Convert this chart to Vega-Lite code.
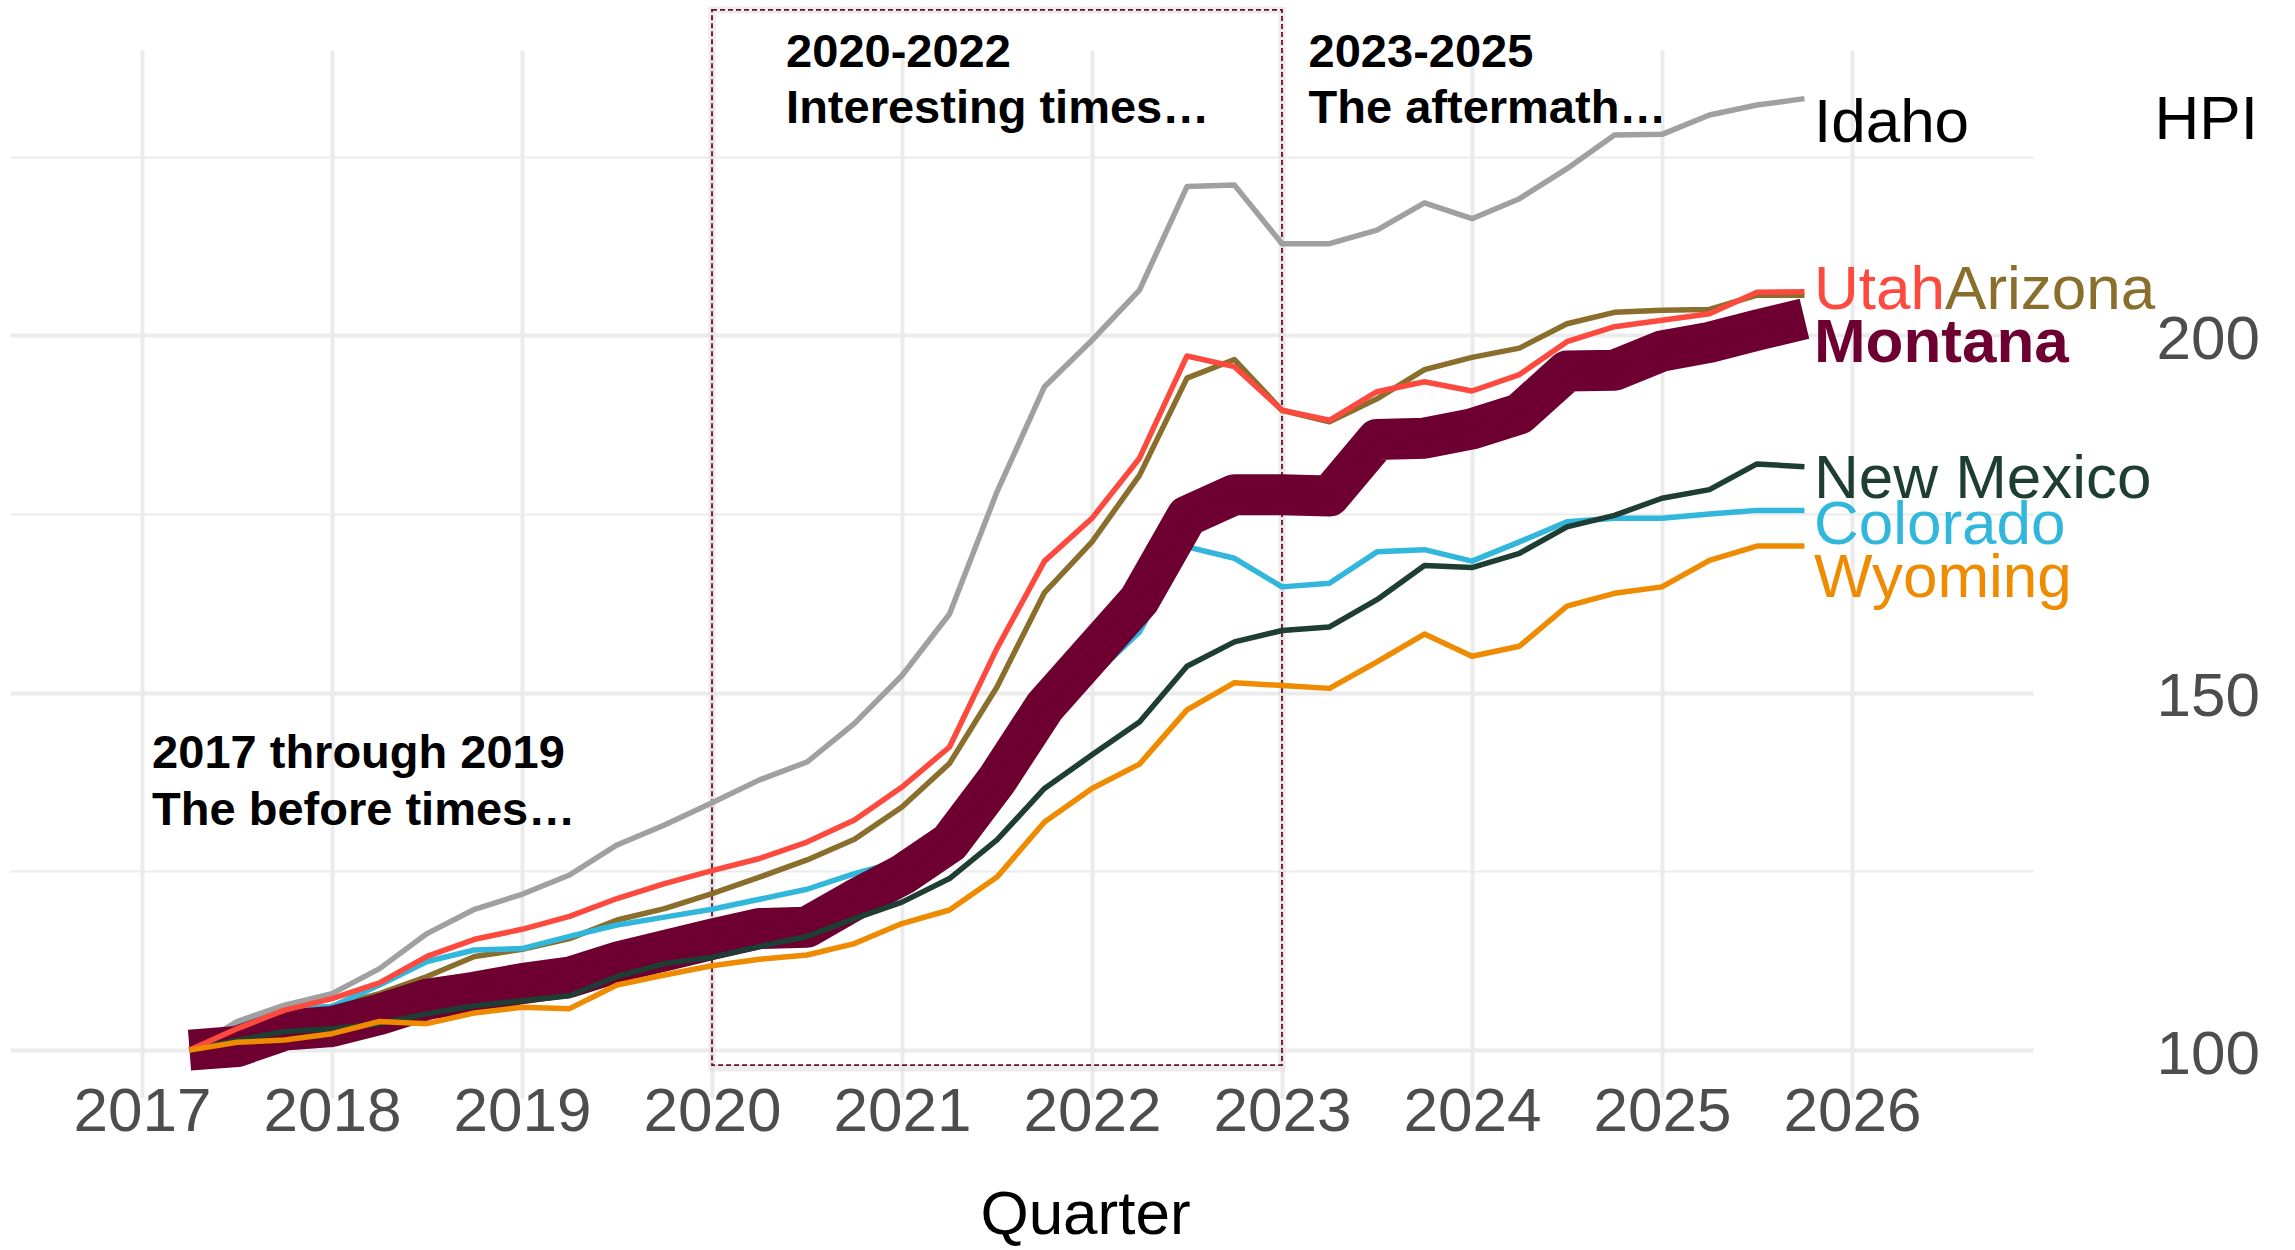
{
  "$schema": "https://vega.github.io/schema/vega-lite/v6.json",
  "width": 2023,
  "height": 1048,
  "autosize": {"type": "none"},
  "padding": {"left": 10, "top": 50, "right": 262, "bottom": 152},
  "background": "#ffffff",
  "config": {"view": {"stroke": null}, "font": "Liberation Sans"},
  "datasets": {
    "hpi": [
      {"q": 2017.25, "Arizona": 100, "Colorado": 100, "Idaho": 100, "Montana": 100, "New Mexico": 100, "Utah": 100, "Wyoming": 100},
      {"q": 2017.5, "Arizona": 102.3, "Colorado": 103.3, "Idaho": 104.0, "Montana": 100.5, "New Mexico": 101.4, "Utah": 103.0, "Wyoming": 101.1},
      {"q": 2017.75, "Arizona": 105.1, "Colorado": 105.8, "Idaho": 106.3, "Montana": 102.8, "New Mexico": 102.6, "Utah": 105.6, "Wyoming": 101.4},
      {"q": 2018, "Arizona": 106.1, "Colorado": 106.1, "Idaho": 107.9, "Montana": 103.3, "New Mexico": 103.0, "Utah": 107.2, "Wyoming": 102.3},
      {"q": 2018.25, "Arizona": 107.9, "Colorado": 109.1, "Idaho": 111.4, "Montana": 105.0, "New Mexico": 103.7, "Utah": 109.4, "Wyoming": 104.0},
      {"q": 2018.5, "Arizona": 110.3, "Colorado": 112.4, "Idaho": 116.3, "Montana": 107.1, "New Mexico": 105.1, "Utah": 113.1, "Wyoming": 103.7},
      {"q": 2018.75, "Arizona": 113.1, "Colorado": 114.0, "Idaho": 119.7, "Montana": 108.1, "New Mexico": 106.2, "Utah": 115.5, "Wyoming": 105.2},
      {"q": 2019, "Arizona": 114.1, "Colorado": 114.2, "Idaho": 121.8, "Montana": 109.3, "New Mexico": 106.9, "Utah": 116.9, "Wyoming": 106.0},
      {"q": 2019.25, "Arizona": 115.6, "Colorado": 115.9, "Idaho": 124.5, "Montana": 110.2, "New Mexico": 107.6, "Utah": 118.7, "Wyoming": 105.8},
      {"q": 2019.5, "Arizona": 118.2, "Colorado": 117.5, "Idaho": 128.7, "Montana": 112.3, "New Mexico": 110.3, "Utah": 121.2, "Wyoming": 109.1},
      {"q": 2019.75, "Arizona": 119.8, "Colorado": 118.6, "Idaho": 131.5, "Montana": 113.9, "New Mexico": 112.1, "Utah": 123.3, "Wyoming": 110.5},
      {"q": 2020, "Arizona": 121.9, "Colorado": 119.7, "Idaho": 134.6, "Montana": 115.5, "New Mexico": 113.0, "Utah": 125.1, "Wyoming": 111.8},
      {"q": 2020.25, "Arizona": 124.2, "Colorado": 121.1, "Idaho": 137.8, "Montana": 117.0, "New Mexico": 114.5, "Utah": 126.8, "Wyoming": 112.7},
      {"q": 2020.5, "Arizona": 126.6, "Colorado": 122.5, "Idaho": 140.3, "Montana": 117.2, "New Mexico": 115.9, "Utah": 129.1, "Wyoming": 113.3},
      {"q": 2020.75, "Arizona": 129.5, "Colorado": 124.7, "Idaho": 145.7, "Montana": 121.0, "New Mexico": 118.4, "Utah": 132.2, "Wyoming": 114.9},
      {"q": 2021, "Arizona": 134.0, "Colorado": 126.5, "Idaho": 152.4, "Montana": 124.5, "New Mexico": 120.7, "Utah": 136.8, "Wyoming": 117.7},
      {"q": 2021.25, "Arizona": 140.1, "Colorado": 130.0, "Idaho": 161.0, "Montana": 129.0, "New Mexico": 124.0, "Utah": 142.4, "Wyoming": 119.6},
      {"q": 2021.5, "Arizona": 150.8, "Colorado": 137.0, "Idaho": 178.1, "Montana": 137.8, "New Mexico": 129.4, "Utah": 156.2, "Wyoming": 124.2},
      {"q": 2021.75, "Arizona": 164.0, "Colorado": 145.0, "Idaho": 192.8, "Montana": 148.0, "New Mexico": 136.6, "Utah": 168.4, "Wyoming": 131.9},
      {"q": 2022, "Arizona": 171.1, "Colorado": 152.2, "Idaho": 199.3, "Montana": 155.5, "New Mexico": 141.3, "Utah": 174.4, "Wyoming": 136.6},
      {"q": 2022.25, "Arizona": 180.4, "Colorado": 158.5, "Idaho": 206.3, "Montana": 163.0, "New Mexico": 145.9, "Utah": 182.8, "Wyoming": 140.0},
      {"q": 2022.5, "Arizona": 194.0, "Colorado": 170.4, "Idaho": 220.8, "Montana": 174.7, "New Mexico": 153.7, "Utah": 197.1, "Wyoming": 147.6},
      {"q": 2022.75, "Arizona": 196.6, "Colorado": 168.8, "Idaho": 221.0, "Montana": 177.7, "New Mexico": 157.1, "Utah": 195.6, "Wyoming": 151.4},
      {"q": 2023, "Arizona": 189.5, "Colorado": 164.8, "Idaho": 212.8, "Montana": 177.7, "New Mexico": 158.7, "Utah": 189.5, "Wyoming": 151.0},
      {"q": 2023.25, "Arizona": 187.9, "Colorado": 165.3, "Idaho": 212.8, "Montana": 177.5, "New Mexico": 159.2, "Utah": 188.1, "Wyoming": 150.6},
      {"q": 2023.5, "Arizona": 191.1, "Colorado": 169.7, "Idaho": 214.7, "Montana": 185.4, "New Mexico": 163.0, "Utah": 192.1, "Wyoming": 154.3},
      {"q": 2023.75, "Arizona": 195.2, "Colorado": 170.0, "Idaho": 218.5, "Montana": 185.6, "New Mexico": 167.8, "Utah": 193.5, "Wyoming": 158.2},
      {"q": 2024, "Arizona": 196.9, "Colorado": 168.4, "Idaho": 216.3, "Montana": 186.9, "New Mexico": 167.5, "Utah": 192.2, "Wyoming": 155.1},
      {"q": 2024.25, "Arizona": 198.2, "Colorado": 171.1, "Idaho": 219.1, "Montana": 189.0, "New Mexico": 169.5, "Utah": 194.5, "Wyoming": 156.5},
      {"q": 2024.5, "Arizona": 201.6, "Colorado": 173.9, "Idaho": 223.3, "Montana": 195.0, "New Mexico": 173.2, "Utah": 199.1, "Wyoming": 162.1},
      {"q": 2024.75, "Arizona": 203.2, "Colorado": 174.4, "Idaho": 228.0, "Montana": 195.1, "New Mexico": 174.8, "Utah": 201.2, "Wyoming": 163.9},
      {"q": 2025, "Arizona": 203.5, "Colorado": 174.4, "Idaho": 228.1, "Montana": 197.8, "New Mexico": 177.2, "Utah": 202.1, "Wyoming": 164.8},
      {"q": 2025.25, "Arizona": 203.6, "Colorado": 175.0, "Idaho": 230.8, "Montana": 199.0, "New Mexico": 178.4, "Utah": 203.0, "Wyoming": 168.5},
      {"q": 2025.5, "Arizona": 205.6, "Colorado": 175.5, "Idaho": 232.2, "Montana": 200.7, "New Mexico": 182.0, "Utah": 206.0, "Wyoming": 170.5},
      {"q": 2025.75, "Arizona": 205.6, "Colorado": 175.5, "Idaho": 233.1, "Montana": 202.3, "New Mexico": 181.6, "Utah": 206.1, "Wyoming": 170.5}
    ],
    "labels": [
      {"state": "Idaho", "q": 2025.8, "v": 227.0},
      {"state": "Utah", "q": 2025.8, "v": 203.6},
      {"state": "Arizona", "q": 2026.49, "v": 203.6},
      {"state": "Montana", "q": 2025.8, "v": 196.2},
      {"state": "New Mexico", "q": 2025.8, "v": 177.2},
      {"state": "Colorado", "q": 2025.8, "v": 170.8},
      {"state": "Wyoming", "q": 2025.8, "v": 163.4}
    ],
    "notes": [
      {"q": 2017.053, "v": 139.4, "t": "2017 through 2019"},
      {"q": 2017.053, "v": 131.5, "t": "The before times…"},
      {"q": 2020.39, "v": 237.5, "t": "2020-2022"},
      {"q": 2020.39, "v": 229.7, "t": "Interesting times…"},
      {"q": 2023.14, "v": 237.5, "t": "2023-2025"},
      {"q": 2023.14, "v": 229.7, "t": "The aftermath…"}
    ]
  },
  "encoding": {
    "x": {
      "field": "q",
      "type": "quantitative",
      "scale": {"domain": [2016.305, 2026.953], "nice": false, "zero": false},
      "axis": {
        "values": [2017, 2018, 2019, 2020, 2021, 2022, 2023, 2024, 2025, 2026],
        "format": "d",
        "labelFont": "Liberation Sans",
        "labelFontSize": 62,
        "labelColor": "#4d4d4d",
        "labelBaseline": "top",
        "labelPadding": -17,
        "labelFlush": false,
        "labelOverlap": false,
        "ticks": false,
        "tickSize": 0,
        "domain": false,
        "grid": true,
        "gridColor": "#ebebeb",
        "gridWidth": 4,
        "title": "Quarter",
        "titleFont": "Liberation Sans",
        "titleFontSize": 62,
        "titleFontWeight": "normal",
        "titleColor": "#000000",
        "titleX": 1075,
        "titleY": 135,
        "titleAlign": "center",
        "titleBaseline": "alphabetic"
      }
    },
    "y": {
      "field": "v",
      "type": "quantitative",
      "scale": {"domain": [93.3, 239.9], "nice": false, "zero": false},
      "axis": {
        "orient": "right",
        "values": [100, 125, 150, 175, 200, 225],
        "labelExpr": "datum.value % 50 === 0 ? datum.label : ''",
        "labelFont": "Liberation Sans",
        "labelFontSize": 62,
        "labelColor": "#4d4d4d",
        "labelAlign": "left",
        "labelBaseline": "middle",
        "labelOffset": 4,
        "labelPadding": 123,
        "labelOverlap": false,
        "labelFlush": false,
        "ticks": false,
        "tickSize": 0,
        "domain": false,
        "grid": true,
        "gridColor": "#ebebeb",
        "gridWidth": {"condition": {"test": "datum.value % 50 === 0", "value": 4}, "value": 2},
        "title": "HPI",
        "titleFont": "Liberation Sans",
        "titleFontSize": 62,
        "titleFontWeight": "normal",
        "titleColor": "#000000",
        "titleAngle": 0,
        "titleX": 121,
        "titleY": 88,
        "titleAlign": "left",
        "titleBaseline": "alphabetic"
      }
    }
  },
  "layer": [
    {
      "data": {"values": [{"q": 2020, "q2": 2023, "v": 97.9, "v2": 245.5}]},
      "mark": {"type": "rect", "filled": false, "stroke": "#e0e0e0", "strokeWidth": 7, "strokeOpacity": 0.6, "yOffset": 3},
      "encoding": {"x2": {"field": "q2"}, "y2": {"field": "v2"}}
    },
    {
      "data": {"values": [{"q": 2020, "q2": 2023, "v": 97.9, "v2": 245.5}]},
      "mark": {"type": "rect", "filled": false, "stroke": "#6e0f2d", "strokeWidth": 1.8, "strokeDash": [5, 3]},
      "encoding": {"x2": {"field": "q2"}, "y2": {"field": "v2"}}
    },
    {
      "data": {"name": "hpi"},
      "transform": [{"fold": ["Arizona", "Colorado", "Idaho", "Montana", "New Mexico", "Utah", "Wyoming"], "as": ["state", "v"]}],
      "mark": {"type": "line", "strokeJoin": "round", "strokeCap": "butt"},
      "encoding": {
        "color": {
          "field": "state",
          "type": "nominal",
          "scale": {
            "domain": ["Arizona", "Colorado", "Idaho", "Montana", "New Mexico", "Utah", "Wyoming"],
            "range": ["#8a6e2b", "#31b7dc", "#a0a0a0", "#6d0030", "#1e3d33", "#fe4a3e", "#ee8b00"]
          },
          "legend": null
        },
        "strokeWidth": {"condition": {"test": "datum.state === 'Montana'", "value": 41}, "value": 5.5}
      }
    },
    {
      "data": {"name": "labels"},
      "transform": [{"filter": "datum.state !== 'Montana'"}],
      "mark": {"type": "text", "align": "left", "baseline": "alphabetic", "fontSize": 62, "font": "Liberation Sans"},
      "encoding": {
        "text": {"field": "state"},
        "color": {
          "condition": {"test": "datum.state === 'Idaho'", "value": "#000000"},
          "field": "state",
          "type": "nominal",
          "legend": null
        }
      }
    },
    {
      "data": {"name": "labels"},
      "transform": [{"filter": "datum.state === 'Montana'"}],
      "mark": {"type": "text", "align": "left", "baseline": "alphabetic", "fontSize": 62, "fontWeight": "bold", "font": "Liberation Sans"},
      "encoding": {
        "text": {"field": "state"},
        "color": {"field": "state", "type": "nominal", "legend": null}
      }
    },
    {
      "data": {"name": "notes"},
      "mark": {"type": "text", "align": "left", "baseline": "alphabetic", "fontSize": 47, "fontWeight": "bold", "font": "Liberation Sans", "color": "#000000"},
      "encoding": {"text": {"field": "t"}}
    }
  ]
}
